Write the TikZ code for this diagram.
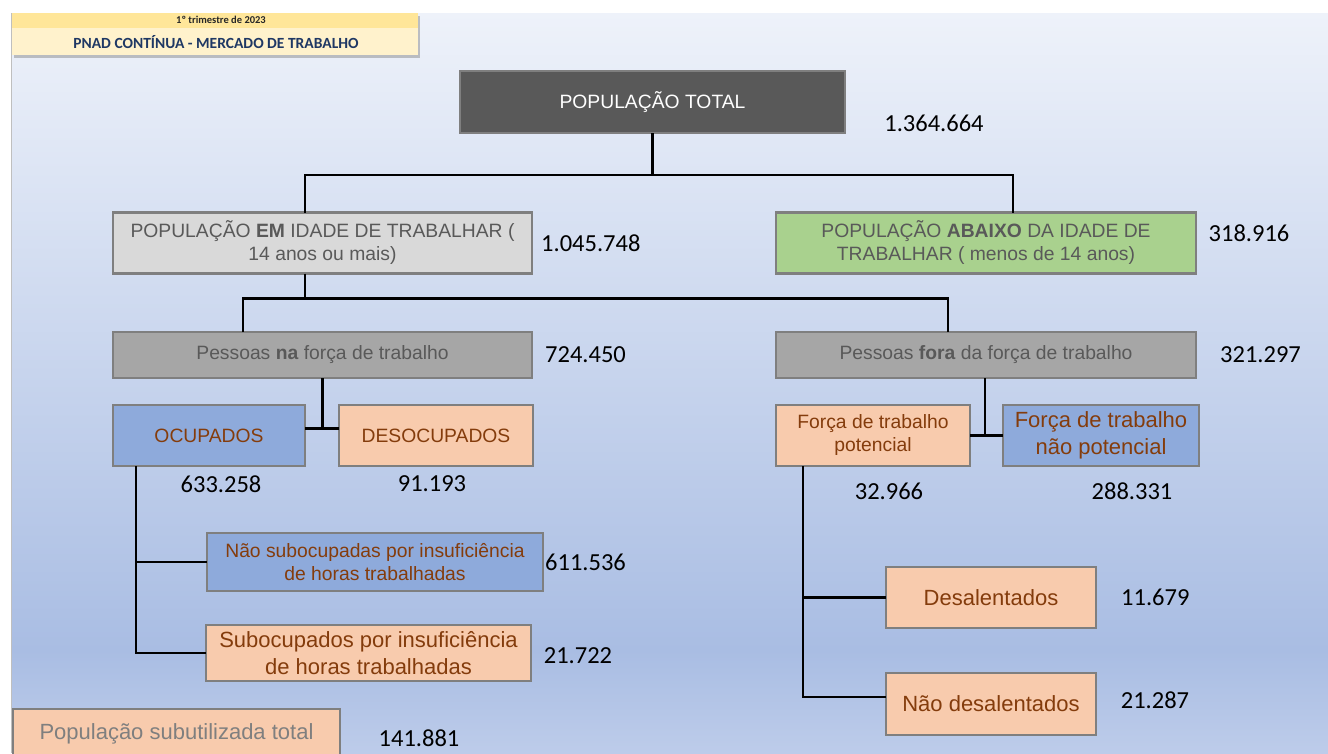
\documentclass[tikz,border=0pt]{standalone}
\usepackage{fontspec}
\setmainfont{Liberation Sans}
\newfontfamily\numfont{Carlito}
\usetikzlibrary{positioning,shadows}

\definecolor{boxgray}{HTML}{7F7F7F}
\definecolor{darkfill}{HTML}{595959}
\definecolor{lightfill}{HTML}{D9D9D9}
\definecolor{midfill}{HTML}{A6A6A6}
\definecolor{greenfill}{HTML}{A9D18E}
\definecolor{bluefill}{HTML}{8EAADB}
\definecolor{peachfill}{HTML}{F8CBAD}
\definecolor{browntext}{HTML}{843C0C}
\definecolor{graytext}{HTML}{595959}
\definecolor{navytext}{HTML}{1F3864}
\definecolor{bgtop}{HTML}{EEF2FA}
\definecolor{bgmid}{HTML}{A9BDE3}
\definecolor{bgbot}{HTML}{BDCCEA}
\definecolor{hdrband}{HTML}{FFE699}
\definecolor{hdrfill}{HTML}{FFF2CC}

\tikzstyle{basebox}=[rectangle, draw=boxgray, line width=2.6pt, outer sep=0pt, inner sep=2pt,
  align=center, font=\fontsize{19.3}{23}\selectfont]
\tikzstyle{bigbox}=[basebox, font=\fontsize{22}{27}\selectfont]
\tikzstyle{darkbox}=[basebox, fill=darkfill, text=white]
\tikzstyle{lgbox}=[basebox, fill=lightfill, text=graytext]
\tikzstyle{gbox}=[basebox, fill=midfill, text=graytext]
\tikzstyle{grbox}=[basebox, fill=greenfill, text=graytext]
\tikzstyle{bbox}=[basebox, fill=bluefill, text=browntext]
\tikzstyle{pbox}=[basebox, fill=peachfill, text=browntext]
\tikzstyle{line}=[-, line width=2.9pt, black]
\tikzstyle{num}=[inner sep=0pt, font=\numfont\fontsize{24.5}{28}\selectfont]

\begin{document}
\begin{tikzpicture}[x=1pt, y=-1pt, node distance=0pt]

    \useasboundingbox (0,0) rectangle (1328,753);
    \fill[white] (0,0) rectangle (1328,753);
    \fill[top color=bgtop, bottom color=bgmid] (12,13) rectangle (1328,650);
    \fill[top color=bgmid, bottom color=bgbot] (12,650) rectangle (1328,753);
    \draw[black!25, line width=1pt] (11.5,13) -- (11.5,753);

% HEADER
    \node (hdr) [rectangle, fill=hdrfill, minimum width=406pt, minimum height=42pt, inner sep=0pt,
        drop shadow={shadow xshift=2pt, shadow yshift=-3pt, opacity=.45}] at (215,34) {};
    \node (hdrband) [rectangle, fill=hdrband, minimum width=406pt, minimum height=15pt, inner sep=0pt,
        below=0pt of hdr.north] {};
    \node (hdryear) [inner sep=0pt, text=black!85, font=\numfont\bfseries\fontsize{10.5}{12}\selectfont]
        at (221,20) {1º trimestre de 2023};
    \node (hdrtitle) [inner sep=0pt, text=navytext, font=\numfont\bfseries\fontsize{15.5}{18}\selectfont]
        at (216,42) {PNAD CONTÍNUA - MERCADO DE TRABALHO};

% BOXES
    \node (total) [darkbox, minimum width=385pt, minimum height=62pt] at (652.5,102) {POPULAÇÃO TOTAL};

    \node (pia) [lgbox, minimum width=419pt, minimum height=61pt] at (322.5,243)
        {POPULAÇÃO \textbf{EM} IDADE DE TRABALHAR (\\14 anos ou mais)};
    \node (abaixo) [grbox, minimum width=420pt, minimum height=61pt, right=244pt of pia]
        {POPULAÇÃO \textbf{ABAIXO} DA IDADE DE\\TRABALHAR ( menos de 14 anos)};

    \node (forcana) [gbox, minimum width=419pt, minimum height=46pt, below=58.5pt of pia]
        {Pessoas \textbf{na} força de trabalho};
    \node (forcafora) [gbox, minimum width=420pt, minimum height=46pt, right=244pt of forcana]
        {Pessoas \textbf{fora} da força de trabalho};

    \node (ocup) [bbox, minimum width=192pt, minimum height=61pt, below right=27pt and 0pt of forcana.south west] {OCUPADOS};
    \node (desocup) [pbox, minimum width=194pt, minimum height=61pt, right=34pt of ocup] {DESOCUPADOS};

    \node (potencial) [pbox, minimum width=194pt, minimum height=61pt, below right=27pt and 0pt of forcafora.south west]
        {Força de trabalho\\potencial};
    \node (naopot) [bbox, bigbox, minimum width=196pt, minimum height=61pt, right=33pt of potencial]
        {Força de trabalho\\não potencial};

    \node (naosub) [bbox, minimum width=336pt, minimum height=58pt] at (375,562)
        {Não subocupadas por insuficiência\\de horas trabalhadas};
    \node (subocup) [pbox, bigbox, minimum width=325pt, minimum height=56pt] at (368.5,653)
        {Subocupados por insuficiência\\de horas trabalhadas};

    \node (desal) [pbox, bigbox, minimum width=210pt, minimum height=61pt] at (991,597.5) {Desalentados};
    \node (naodesal) [pbox, bigbox, minimum width=210pt, minimum height=62pt, below=45pt of desal] {Não desalentados};

    \node (subtotal) [pbox, bigbox, text=boxgray, minimum width=327pt, minimum height=49pt] at (176.5,733.5)
        {População subutilizada total};

% NUMBERS
    \node (ntotal) [num] at (934,123) {1.364.664};
    \node (npia) [num, right=9pt of pia] {1.045.748};
    \node (nabaixo) [num] at (1249,233) {318.916};
    \node (nforcana) [num, right=13pt of forcana] {724.450};
    \node (nforcafora) [num, right=24pt of forcafora] {321.297};
    \node (nocup) [num] at (221,484) {633.258};
    \node (ndesocup) [num] at (432,484) {91.193};
    \node (npotencial) [num] at (889,491) {32.966};
    \node (nnaopot) [num] at (1132,491) {288.331};
    \node (nnaosub) [num, right=2pt of naosub] {611.536};
    \node (nsubocup) [num] at (578,656) {21.722};
    \node (ndesal) [num, right=25pt of desal] {11.679};
    \node (nnaodesal) [num] at (1155,700) {21.287};
    \node (nsubtotal) [num] at (419,738) {141.881};

% CONNECTORS
   \draw[line] (total.south) -- ++(0,42) coordinate (tj);
   \draw[line] ([xshift=-17.5pt]pia.north) |- (tj) -| ([xshift=27pt]abaixo.north);

   \draw[line] ([xshift=-17.5pt]pia.south) -- ++(0,25) coordinate (pj);
   \draw[line] ([xshift=-79.5pt]forcana.north) |- (pj) -| ([xshift=-38pt]forcafora.north);

   \draw[line] ([yshift=7pt]ocup.east) -- ([yshift=7pt]desocup.west);
   \draw[line] (forcana.south) -- ++(0,50.5);

   \draw[line] (potencial.east) -- (naopot.west);
   \draw[line] ([xshift=-1pt]forcafora.south) |- (naopot.west);

   \draw[line] ([xshift=-73pt]ocup.south) |- (naosub.west);
   \draw[line] ([xshift=-73pt]ocup.south) |- (subocup.west);

   \draw[line] ([xshift=-70pt]potencial.south) |- (desal.west);
   \draw[line] ([xshift=-70pt]potencial.south) |- ([yshift=7pt]naodesal.west);

\end{tikzpicture}
\end{document}
